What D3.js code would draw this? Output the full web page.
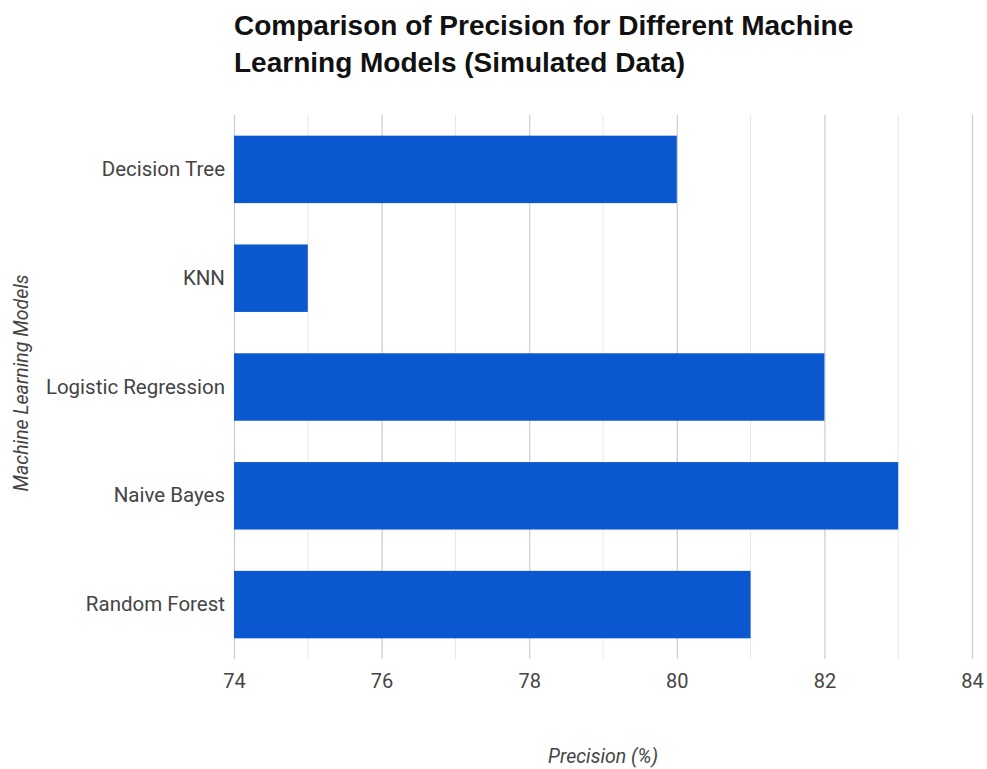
<!DOCTYPE html>
<html>
<head>
<meta charset="utf-8">
<script src="https://cdn.jsdelivr.net/npm/d3@7"></script>
<style>
  html, body { margin: 0; padding: 0; background: #fff; }
  svg { display: block; font-family: Roboto, "Liberation Sans", Arial, sans-serif; }
</style>
</head>
<body>
<svg id="chart" width="987" height="769"></svg>
<script>
// Precision per model (%)
const models = ["Decision Tree", "KNN", "Logistic Regression", "Naive Bayes", "Random Forest"];
const precision = [80, 75, 82, 83, 81];
const xTicks = [74, 76, 78, 80, 82, 84];
const xMinorTicks = [75, 77, 79, 81, 83];
const titleLines = ["Comparison of Precision for Different Machine", "Learning Models (Simulated Data)"];
const xTitle = "Precision (%)";
const yTitle = "Machine Learning Models";

const svg = d3.select("#chart");
const margin = { left: 234, right: 15, top: 115, bottom: 110 };
const W = 987, H = 769;
const labelFont = "Roboto, 'Liberation Sans', Arial, sans-serif";

const x = d3.scaleLinear().domain([74, 84]).range([margin.left, W - margin.right]);
const y = d3.scaleBand().domain(models).range([margin.top, H - margin.bottom]).paddingInner(0.38).paddingOuter(0.19);

// minor gridlines
svg.append("g").selectAll("line").data(xMinorTicks).join("line")
  .attr("x1", d => x(d)).attr("x2", d => x(d))
  .attr("y1", margin.top).attr("y2", H - margin.bottom)
  .attr("stroke", "#e8e8e8").attr("stroke-width", 1);

// major gridlines via axis
const xAxis = d3.axisBottom(x).tickValues(xTicks).tickFormat(d3.format("d"))
  .tickSize(-(H - margin.bottom - margin.top)).tickPadding(15);
const gx = svg.append("g").attr("transform", `translate(0,${H - margin.bottom})`).call(xAxis);
gx.select(".domain").remove();
gx.selectAll(".tick line").attr("stroke", "#cccccc").attr("stroke-width", 1.2);
gx.selectAll(".tick text").attr("fill", "#444").attr("font-size", 20)
  .attr("font-family", labelFont);

// bars
svg.append("g").selectAll("rect").data(models).join("rect")
  .attr("x", x(74))
  .attr("y", d => y(d))
  .attr("width", (d, i) => x(precision[i]) - x(74))
  .attr("height", y.bandwidth())
  .attr("fill", "#0b57d0");

// y axis labels
const yAxis = d3.axisLeft(y).tickSize(0).tickPadding(9);
const gy = svg.append("g").attr("transform", `translate(${margin.left},0)`).call(yAxis);
gy.select(".domain").remove();
gy.selectAll(".tick text").attr("fill", "#444").attr("font-size", 20.5)
  .attr("font-family", labelFont);

// title
const title = svg.append("text").attr("x", 234).attr("y", 35)
  .attr("font-family", "'Liberation Sans', Arial, sans-serif")
  .attr("font-size", 28).attr("font-weight", "bold").attr("fill", "#111");
titleLines.forEach((t, i) => {
  title.append("tspan").attr("x", 234).attr("dy", i === 0 ? 0 : 37).text(t);
});

// axis titles
svg.append("text").attr("x", x(79)).attr("y", 763)
  .attr("text-anchor", "middle").attr("font-style", "italic")
  .attr("font-size", 19.5).attr("fill", "#444").text(xTitle);

svg.append("text")
  .attr("transform", `translate(28,${(margin.top + H - margin.bottom) / 2 - 4}) rotate(-90)`)
  .attr("text-anchor", "middle").attr("font-style", "italic")
  .attr("font-size", 19.5).attr("fill", "#444").text(yTitle);
</script>
</body>
</html>
